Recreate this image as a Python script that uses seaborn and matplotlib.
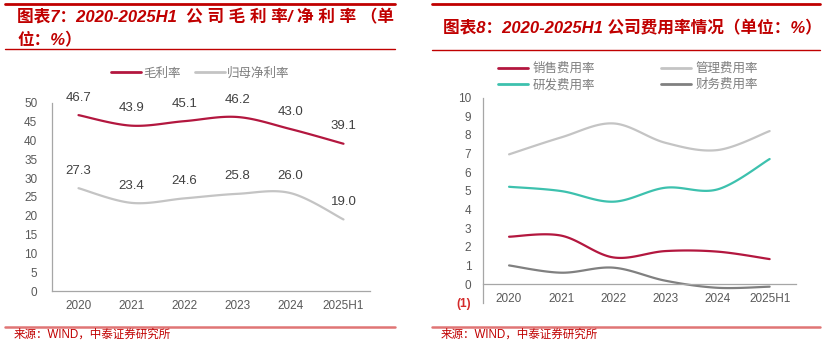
import numpy as np
import pandas as pd
import matplotlib
matplotlib.use("Agg")
import matplotlib.pyplot as plt
import seaborn as sns
from matplotlib.lines import Line2D

# ---- data -------------------------------------------------------------
years = ["2020", "2021", "2022", "2023", "2024", "2025H1"]
gross_margin = [46.7, 43.9, 45.1, 46.2, 43.0, 39.1]
net_margin = [27.3, 23.4, 24.6, 25.8, 26.0, 19.0]

selling_ratio = [2.54, 2.60, 1.43, 1.77, 1.74, 1.34]
admin_ratio = [6.96, 7.87, 8.62, 7.58, 7.19, 8.21]
rd_ratio = [5.22, 4.99, 4.42, 5.17, 5.08, 6.71]
finance_ratio = [1.00, 0.61, 0.88, 0.18, -0.20, -0.14]

left_yticks = list(range(0, 51, 5))
right_yticks = list(range(-1, 11))
right_ylabels = ["(1)"] + [str(v) for v in range(0, 11)]

# ---- style ------------------------------------------------------------
sns.set_theme(style="white")
FONTS = ["Liberation Sans", "Noto Sans CJK SC", "DejaVu Sans"]
CJK = ["Noto Sans CJK SC", "DejaVu Sans"]
plt.rcParams["font.family"] = FONTS

RED = "#C00000"
CRIMSON = "#B3173F"
LIGHT_GRAY = "#C4C4C4"
TEAL = "#3DC1AE"
DARK_GRAY = "#808080"
AXIS = "#A6A6A6"
TICK_TXT = "#595959"

W, H = 825, 345
fig = plt.figure(figsize=(W / 100, H / 100), dpi=100)
fig.patch.set_facecolor("white")


def px_axes(x0, y0, x1, y1):
    """Axes from pixel box (top-left origin)."""
    return fig.add_axes([x0 / W, 1 - y1 / H, (x1 - x0) / W, (y1 - y0) / H])


def smooth_curve(values, steps=24):
    """Bezier-smoothed path through the points, like a spreadsheet smoothed line."""
    y = np.asarray(values, float)
    x = np.arange(len(y), dtype=float)
    pts = np.column_stack([x, y])
    ext = np.vstack([pts[0], pts, pts[-1]])
    segs = []
    for i in range(len(pts) - 1):
        p0, p1, p2, p3 = ext[i], ext[i + 1], ext[i + 2], ext[i + 3]
        c1 = p1 + (p2 - p0) / 6
        c2 = p2 - (p3 - p1) / 6
        t = np.linspace(0, 1, steps, endpoint=(i == len(pts) - 2))[:, None]
        segs.append((1 - t) ** 3 * p1 + 3 * (1 - t) ** 2 * t * c1
                    + 3 * (1 - t) * t ** 2 * c2 + t ** 3 * p2)
    out = np.vstack(segs)
    return out[:, 0], out[:, 1]


def draw_series(ax, series, colors):
    frames = []
    for name, vals in series.items():
        xs, ys = smooth_curve(vals)
        frames.append(pd.DataFrame({"x": xs, "y": ys, "series": name}))
    df = pd.concat(frames, ignore_index=True)
    sns.lineplot(data=df, x="x", y="y", hue="series", palette=colors,
                 sort=False, estimator=None, linewidth=1.6, legend=False, ax=ax)


def style_axes(ax):
    for s in ("top", "right"):
        ax.spines[s].set_visible(False)
    for s in ("left", "bottom"):
        ax.spines[s].set_color(AXIS)
        ax.spines[s].set_linewidth(0.9)
    ax.set_xlim(-0.5, len(years) - 0.5)
    ax.set_xticks(np.arange(-0.5, len(years)))
    ax.set_xticklabels([])
    ax.set_xticks(range(len(years)), minor=True)
    ax.set_xticklabels(years, minor=True)
    ax.tick_params(axis="x", which="major", direction="out", length=3.5,
                   width=0.9, color=AXIS)
    ax.tick_params(axis="x", which="minor", length=0, pad=6.5,
                   labelsize=8.5, labelcolor=TICK_TXT)
    ax.tick_params(axis="y", direction="out", length=2.5, width=0.9,
                   color=AXIS, labelsize=8.5, labelcolor=TICK_TXT)
    ax.set_xlabel("")
    ax.set_ylabel("")
    ax.set_facecolor("white")


# ---- left panel: margins ---------------------------------------------
axL = px_axes(52, 102.7, 370, 291)
draw_series(axL, {"毛利率": gross_margin, "归母净利率": net_margin},
            {"毛利率": CRIMSON, "归母净利率": LIGHT_GRAY})
style_axes(axL)
axL.set_ylim(0, 50)
axL.set_yticks(left_yticks)
axL.set_yticklabels([str(v) for v in left_yticks])
axL.tick_params(axis="y", pad=8)

for series in (gross_margin, net_margin):
    for i, v in enumerate(series):
        axL.annotate(f"{v:.1f}", (i, v), xytext=(0, 12.5), textcoords="offset points",
                     ha="center", va="center", fontsize=9.5, color="#404040")

legL = [Line2D([], [], color=CRIMSON, lw=2), Line2D([], [], color=LIGHT_GRAY, lw=2)]
fig.legend(legL, ["毛利率", "归母净利率"], loc="center left",
           bbox_to_anchor=(111 / W, 1 - 73 / H), ncol=2, frameon=False,
           handlelength=2.4, handletextpad=0.15, columnspacing=1.2,
           borderaxespad=0, borderpad=0,
           prop={"family": CJK, "size": 9}, labelcolor="#7F7F7F")

# ---- right panel: expense ratios -------------------------------------
axR = px_axes(483, 97.7, 795.7, 302.7)
draw_series(axR, {"销售费用率": selling_ratio, "管理费用率": admin_ratio,
                  "研发费用率": rd_ratio, "财务费用率": finance_ratio},
            {"销售费用率": CRIMSON, "管理费用率": LIGHT_GRAY,
             "研发费用率": TEAL, "财务费用率": DARK_GRAY})
style_axes(axR)
axR.set_ylim(-1, 10)
axR.spines["bottom"].set_position(("data", 0))
axR.set_yticks(right_yticks)
axR.set_yticklabels(right_ylabels)
axR.tick_params(axis="y", pad=6)
neg = axR.get_yticklabels()[0]
neg.set_color("#D42A2A")
neg.set_fontweight("bold")

legR = [Line2D([], [], color=CRIMSON, lw=2), Line2D([], [], color=TEAL, lw=2),
        Line2D([], [], color=LIGHT_GRAY, lw=2), Line2D([], [], color=DARK_GRAY, lw=2)]
fig.legend(legR, ["销售费用率", "研发费用率", "管理费用率", "财务费用率"],
           loc="upper left", bbox_to_anchor=(498 / W, 1 - 62 / H), ncol=2,
           frameon=False, handlelength=2.4, handletextpad=0.35,
           columnspacing=5.3, labelspacing=0.25, borderaxespad=0, borderpad=0,
           prop={"family": CJK, "size": 9}, labelcolor="#7F7F7F")

# ---- headers and footers ---------------------------------------------
def hline(x0, x1, y, color, lw):
    fig.add_artist(Line2D([x0 / W, x1 / W], [1 - y / H, 1 - y / H],
                          color=color, lw=lw, transform=fig.transFigure))


title_kw = dict(color=RED, fontsize=12, fontweight="bold", fontstyle="italic",
                family=FONTS, va="center", ha="left")
hline(5, 395, 4, RED, 2.0)
hline(5, 395, 49, RED, 1.0)
fig.text(17 / W, 1 - 17 / H, "图表7：2020-2025H1  公 司 毛 利 率/ 净 利 率 （单", **title_kw)
fig.text(17 / W, 1 - 40 / H, "位：%）", **title_kw)

hline(432, 820, 4, RED, 2.0)
hline(432, 820, 50, RED, 1.0)
fig.text(443 / W, 1 - 28 / H, "图表8：2020-2025H1 公司费用率情况（单位：%）", **title_kw)

FOOT = "#E07575"
hline(5, 395, 327, FOOT, 1.8)
hline(432, 820, 327, FOOT, 1.8)
foot_kw = dict(color=RED, fontsize=8.3, family=FONTS, va="center", ha="left")
fig.text(14 / W, 1 - 335 / H, "来源：WIND，中泰证券研究所", **foot_kw)
fig.text(441 / W, 1 - 335 / H, "来源：WIND，中泰证券研究所", **foot_kw)

fig.savefig("out.png", dpi=100, facecolor="white")
